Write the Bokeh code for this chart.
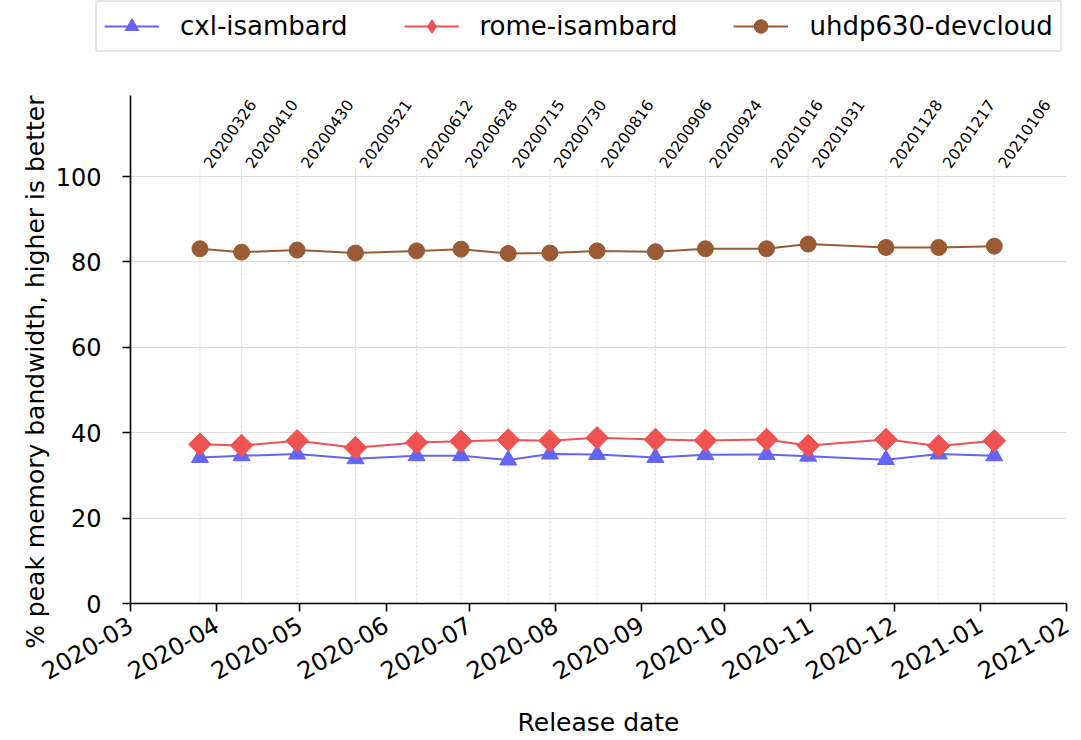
from datetime import datetime
import numpy as np
from bokeh.plotting import figure
from bokeh.models import (Range1d, MonthsTicker, DatetimeTickFormatter, Legend, LegendItem,
                          FixedTicker, Title)
from bokeh.core.properties import value
from bokeh.embed import file_html
from bokeh.resources import INLINE

# ---------------- data ----------------
release_labels = ["20200326", "20200410", "20200430", "20200521", "20200612", "20200628",
                  "20200715", "20200730", "20200816", "20200906", "20200924", "20201016",
                  "20201031", "20201128", "20201217", "20210106"]
cxl_isambard = [34.2, 34.6, 35.0, 33.9, 34.6, 34.6, 33.6, 35.0, 34.9, 34.2, 34.85, 34.9,
                34.5, 33.7, 35.0, 34.6]
rome_isambard = [37.3, 37.0, 38.1, 36.5, 37.7, 38.0, 38.3, 38.1, 38.8, 38.4, 38.2, 38.4,
                 37.0, 38.4, 36.9, 38.1]
uhdp630_devcloud = [83.1, 82.3, 82.8, 82.1, 82.6, 83.0, 82.0, 82.1, 82.6, 82.4, 83.1, 83.1,
                    84.2, 83.4, 83.4, 83.7]
series_names = ["cxl-isambard", "rome-isambard", "uhdp630-devcloud"]
y_ticks = [0, 20, 40, 60, 80, 100]
x_start = "2020-03-01"
x_end = "2021-02-01"

release_dates = [datetime.strptime(s, "%Y%m%d") for s in release_labels]

FONT = "DejaVu Sans"
c_blue, c_red, c_brown = "#6464f5", "#f05252", "#9a5b34"

# ---------------- main plot ----------------
p = figure(width=1081, height=645, output_backend="svg", toolbar_location=None,
           x_axis_type="datetime",
           x_range=Range1d(datetime.fromisoformat(x_start), datetime.fromisoformat(x_end)),
           y_range=Range1d(0, 119),
           min_border_left=130, min_border_right=15, min_border_top=0, min_border_bottom=132)
p.outline_line_color = None
p.background_fill_color = "white"

p.xgrid.grid_line_color = None
p.ygrid.ticker = FixedTicker(ticks=y_ticks)
p.ygrid.grid_line_color = "#dcdcdc"
p.ygrid.grid_line_width = 1

n = len(release_dates)
p.segment(x0=release_dates, x1=release_dates, y0=[0] * n, y1=[102] * n,
          line_color="#d8d8d8", line_width=1, line_dash="2 2")
p.text(x=release_dates, y=[102.5] * n, text=release_labels, angle=np.deg2rad(55),
       text_font=value(FONT), text_font_size="15.5px", text_align="left",
       text_baseline="alphabetic", x_offset=7, text_color="black")

p.line(release_dates, cxl_isambard, line_color=c_blue, line_width=2)
p.scatter(release_dates, cxl_isambard, marker="triangle", size=17,
          fill_color=c_blue, line_color=c_blue)
p.line(release_dates, rome_isambard, line_color=c_red, line_width=2)
p.scatter(release_dates, rome_isambard, marker="square", angle=np.pi / 4, size=16,
          fill_color=c_red, line_color=c_red)
p.line(release_dates, uhdp630_devcloud, line_color=c_brown, line_width=2)
p.scatter(release_dates, uhdp630_devcloud, marker="circle", size=16,
          fill_color=c_brown, line_color=c_brown)

p.xaxis.ticker = MonthsTicker(months=list(range(12)))
fmt = "%Y-%m"
p.xaxis.formatter = DatetimeTickFormatter(years=fmt, months=fmt, days=fmt, hours=fmt,
                                          minutes=fmt, seconds=fmt, milliseconds=fmt,
                                          microseconds=fmt, hourmin=fmt, minsec=fmt)
p.xaxis.major_label_orientation = np.pi / 6
p.yaxis.ticker = FixedTicker(ticks=y_ticks)
p.xaxis.axis_label = "Release date"
for ax in (p.xaxis[0], p.yaxis[0]):
    ax.axis_line_color = "black"
    ax.axis_line_width = 1.6
    ax.major_tick_line_color = "black"
    ax.major_tick_line_width = 1.6
    ax.major_tick_in = 0
    ax.major_tick_out = 8
    ax.minor_tick_line_color = None
    ax.major_label_text_font = FONT
    ax.major_label_text_font_size = "24px"
    ax.major_label_text_color = "black"
    ax.axis_label_text_font = FONT
    ax.axis_label_text_font_size = "25px"
    ax.axis_label_text_font_style = "normal"
    ax.axis_label_text_color = "black"
p.yaxis.major_label_standoff = 21
p.xaxis.major_label_standoff = 11
p.xaxis.axis_label_standoff = 17

# y-axis title: a side title aligned to the top of the frame, so that it runs
# downward past the frame bottom as in the reference
ytitle = Title(text="% peak memory bandwidth, higher is better", align="right",
               text_font=FONT, text_font_size="25px", text_font_style="normal",
               text_color="black", standoff=6)
p.add_layout(ytitle, "left")

# ---------------- legend strip (same series styles, drawn off-range) ----------------
lg = figure(width=1081, height=95, output_backend="svg", toolbar_location=None,
            x_range=Range1d(0, 1), y_range=Range1d(0, 1),
            x_axis_location=None, y_axis_location=None,
            min_border_left=0, min_border_right=0, min_border_top=0, min_border_bottom=0)
lg.outline_line_color = None
lg.grid.visible = False
lx = [-10, -9]
ly = [-10, -9]
r1 = [lg.line(lx, ly, line_color=c_blue, line_width=2),
      lg.scatter(lx, ly, marker="triangle", fill_color=c_blue, line_color=c_blue)]
r2 = [lg.line(lx, ly, line_color=c_red, line_width=2),
      lg.scatter(lx, ly, marker="diamond", fill_color=c_red, line_color=c_red)]
r3 = [lg.line(lx, ly, line_color=c_brown, line_width=2),
      lg.scatter(lx, ly, marker="circle", fill_color=c_brown, line_color=c_brown)]
legend = Legend(items=[LegendItem(label=series_names[0], renderers=r1),
                       LegendItem(label=series_names[1], renderers=r2),
                       LegendItem(label=series_names[2], renderers=r3)],
                orientation="horizontal", location=(95, 43))
legend.label_text_font = FONT
legend.label_text_font_size = "26px"
legend.label_text_color = "black"
legend.glyph_width = 55
legend.glyph_height = 34
legend.label_height = 34
legend.label_standoff = 21
legend.spacing = 56
legend.padding = 7
legend.margin = 0
legend.border_line_color = "#cccccc"
legend.border_line_width = 2
legend.border_radius = 3
legend.background_fill_alpha = 1
lg.add_layout(legend, "center")

open("out.html", "w").write(file_html([lg, p], INLINE))
